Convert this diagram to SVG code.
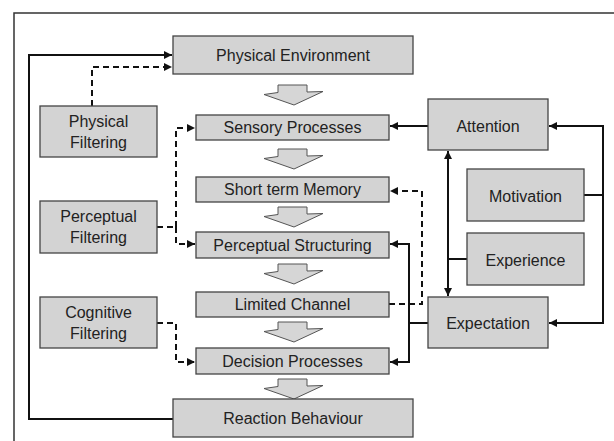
<svg xmlns="http://www.w3.org/2000/svg" xmlns:xlink="http://www.w3.org/1999/xlink" width="614" height="441" viewBox="0 0 614 441">
  <style>
    .box { fill: #d3d3d3; stroke: #444; stroke-width: 1.3; }
    .lbl { font-family: "Liberation Sans", Arial, sans-serif; font-size: 16px; fill: #222; text-anchor: middle; dominant-baseline: central; }
    .solid { fill: none; stroke: #111; stroke-width: 2; }
    .dash { fill: none; stroke: #111; stroke-width: 2; stroke-dasharray: 6 4; }
    .frame { fill: none; stroke: #333; stroke-width: 1.5; }
    .flow { fill: #d6d6d6; stroke: #555; stroke-width: 1; }
  </style>
  <defs>
    <marker id="ah" viewBox="0 0 10 10" refX="10" refY="5" markerWidth="9" markerHeight="8" markerUnits="userSpaceOnUse" orient="auto">
      <path d="M0,0 L10,5 L0,10 z" fill="#111"/>
    </marker>
    <!-- downward flow arrow, tip at origin -->
    <polygon id="flow" class="flow" points="-16,-20 13,-20 13,-13 29,-13.5 0,0 -30,-10.5 -16,-12.5"/>
  </defs>

  <!-- frame -->
  <path class="frame" d="M14,441 V13 H614"/>

  <!-- flow arrows between stages -->
  <g id="flow-arrows">
    <use xlink:href="#flow" x="294" y="105"/>
    <use xlink:href="#flow" x="294" y="169"/>
    <use xlink:href="#flow" x="294" y="227"/>
    <use xlink:href="#flow" x="294" y="284"/>
    <use xlink:href="#flow" x="294" y="342"/>
    <use xlink:href="#flow" x="294" y="399"/>
  </g>

  <g id="connectors">
    <!-- solid links -->
    <path class="solid" d="M173,419 H29 V55 H172" marker-end="url(#ah)"/>
    <path class="solid" d="M428,126 H390" marker-end="url(#ah)"/>
    <path class="solid" d="M584,195 H603 V126 H549" marker-end="url(#ah)"/>
    <path class="solid" d="M603,195 V323 H549" marker-end="url(#ah)"/>
    <path class="solid" d="M467,259 H448"/>
    <path class="solid" d="M448,259 V151" marker-end="url(#ah)"/>
    <path class="solid" d="M448,259 V296" marker-end="url(#ah)"/>
    <path class="solid" d="M428,323 H409"/>
    <path class="solid" d="M409,323 V244 H390" marker-end="url(#ah)"/>
    <path class="solid" d="M409,323 V362 H390" marker-end="url(#ah)"/>
    <!-- dashed links -->
    <path class="dash" d="M92,106 V67 H172" marker-end="url(#ah)"/>
    <path class="dash" d="M157,227 H176"/>
    <path class="dash" d="M176,227 V128 H195" marker-end="url(#ah)"/>
    <path class="dash" d="M176,227 V244 H195" marker-end="url(#ah)"/>
    <path class="dash" d="M157,323 H176 V362 H195" marker-end="url(#ah)"/>
    <path class="dash" d="M389,304 H422 V191 H390" marker-end="url(#ah)"/>
  </g>

  <g id="physical-environment">
    <rect class="box" x="173" y="36" width="240" height="38"/>
    <text class="lbl" x="293" y="55">Physical Environment</text>
  </g>
  <g id="sensory-processes">
    <rect class="box" x="196" y="115" width="193" height="25"/>
    <text class="lbl" x="292.5" y="127.5">Sensory Processes</text>
  </g>
  <g id="short-term-memory">
    <rect class="box" x="196" y="177" width="193" height="25"/>
    <text class="lbl" x="292.5" y="189.5">Short term Memory</text>
  </g>
  <g id="perceptual-structuring">
    <rect class="box" x="196" y="232" width="193" height="26"/>
    <text class="lbl" x="292.5" y="245">Perceptual Structuring</text>
  </g>
  <g id="limited-channel">
    <rect class="box" x="196" y="292" width="193" height="25"/>
    <text class="lbl" x="292.5" y="304.5">Limited Channel</text>
  </g>
  <g id="decision-processes">
    <rect class="box" x="196" y="348" width="193" height="26"/>
    <text class="lbl" x="292.5" y="361">Decision Processes</text>
  </g>
  <g id="reaction-behaviour">
    <rect class="box" x="173" y="399" width="240" height="38"/>
    <text class="lbl" x="293" y="418">Reaction Behaviour</text>
  </g>

  <g id="physical-filtering">
    <rect class="box" x="40" y="106" width="117" height="51"/>
    <text class="lbl" x="98.5" y="121">Physical</text>
    <text class="lbl" x="98.5" y="142">Filtering</text>
  </g>
  <g id="perceptual-filtering">
    <rect class="box" x="40" y="201" width="117" height="52"/>
    <text class="lbl" x="98.5" y="216">Perceptual</text>
    <text class="lbl" x="98.5" y="237">Filtering</text>
  </g>
  <g id="cognitive-filtering">
    <rect class="box" x="40" y="297" width="117" height="51"/>
    <text class="lbl" x="98.5" y="312">Cognitive</text>
    <text class="lbl" x="98.5" y="333">Filtering</text>
  </g>

  <g id="attention">
    <rect class="box" x="428" y="99" width="120" height="51"/>
    <text class="lbl" x="488" y="126">Attention</text>
  </g>
  <g id="motivation">
    <rect class="box" x="467" y="169" width="117" height="52"/>
    <text class="lbl" x="525.5" y="196">Motivation</text>
  </g>
  <g id="experience">
    <rect class="box" x="467" y="233" width="117" height="52"/>
    <text class="lbl" x="525.5" y="260">Experience</text>
  </g>
  <g id="expectation">
    <rect class="box" x="428" y="297" width="120" height="51"/>
    <text class="lbl" x="488" y="323">Expectation</text>
  </g>
</svg>
